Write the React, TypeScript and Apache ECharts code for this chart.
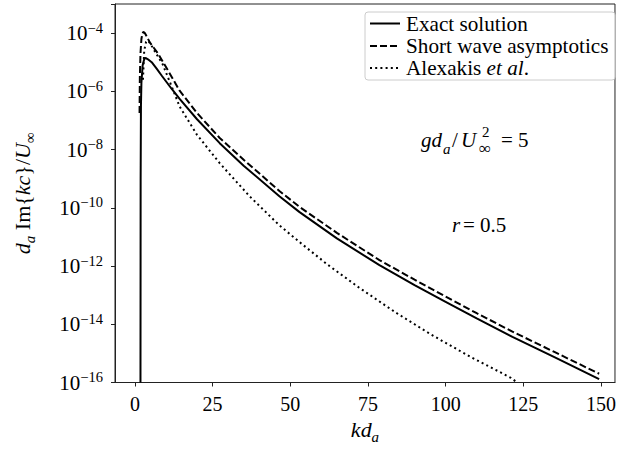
import React, { useEffect, useRef } from 'react';
import * as echarts from 'echarts';

// kd_a values and d_a Im{kc}/U_inf values
const exactK = [1.8, 1.85, 1.95, 2.1, 2.5, 3.0, 3.4, 4.2, 5.4, 7, 8.6, 11.8, 14.4, 20, 27.3, 35, 46.5, 53, 65, 78.7, 90, 100, 110, 121.5, 135, 149.4];
const exactV = [1e-16, 1e-9, 3.2e-7, 2.0e-6, 7.9e-6, 1.26e-5, 1.41e-5, 1.26e-5, 1.0e-5, 6.0e-6, 3.5e-6, 1.23e-6, 5.5e-7, 1.1e-7, 1.66e-8, 2.8e-9, 2.5e-10, 7.1e-11, 8.9e-12, 1.07e-12, 2.2e-13, 5.9e-14, 1.6e-14, 3.7e-15, 7.4e-16, 1.3e-16];

const shortK = [1.5, 1.6, 1.8, 2.1, 2.4, 2.7, 3.2, 4.0, 4.8, 7.5, 10.7, 14.4, 20, 27.3, 35, 46.5, 53, 65, 78.7, 90, 100, 110, 121.5, 135, 149.4];
const shortV = [1.8e-7, 3.2e-6, 2.0e-5, 6.3e-5, 9.5e-5, 1.1e-4, 1.0e-4, 7.1e-5, 4.8e-5, 1.95e-5, 5.1e-6, 1.05e-6, 1.8e-7, 2.5e-8, 4.5e-9, 3.8e-10, 1.07e-10, 1.38e-11, 1.6e-12, 3.4e-13, 8.9e-14, 2.4e-14, 5.6e-15, 1.12e-15, 2.0e-16];

const alexK = [2.6, 3.0, 3.6, 4.2, 5.2, 6.7, 8.9, 11.5, 14.4, 20, 27.3, 36.9, 46.5, 53.5, 62, 72.2, 84, 95.2, 108, 121, 123];
const alexV = [2.5e-6, 2.5e-5, 5.0e-5, 5.6e-5, 4.0e-5, 2.1e-5, 8.7e-6, 1.8e-6, 3.0e-7, 3.2e-8, 3.4e-9, 2.5e-10, 2.5e-11, 6.0e-12, 1.12e-12, 1.8e-13, 2.5e-14, 4.5e-15, 7.6e-16, 1.45e-16, 1e-16];

const xTicks = [0, 25, 50, 75, 100, 125, 150];
const legendNames = ['Exact solution', 'Short wave asymptotics', 'Alexakis et al.'];

const SERIF = 'Liberation Serif';

const pairs = (xs: number[], ys: number[]) => xs.map((x, i) => [x, ys[i]]);

export default function App() {
  const ref = useRef<HTMLDivElement>(null);
  useEffect(() => {
    if (!ref.current) return;
    const chart = echarts.init(ref.current, undefined, { renderer: 'svg' });
    const richBase = {
      n: { fontFamily: SERIF, fontSize: 22, lineHeight: 30, color: '#000' },
      i: { fontFamily: SERIF, fontSize: 22, fontStyle: 'italic', lineHeight: 30, color: '#000' },
      isub: { fontFamily: SERIF, fontSize: 15, fontStyle: 'italic', lineHeight: 14, verticalAlign: 'bottom', color: '#000' },
      sub: { fontFamily: SERIF, fontSize: 15, lineHeight: 14, verticalAlign: 'bottom', color: '#000' },
    };
    const legendY = [23.5, 46, 68];
    const lineDashes: any[] = [null, [7, 3], [2, 3.2]];
    const graphic: any[] = [
      {
        type: 'rect',
        shape: { x: 365, y: 12, width: 250, height: 68, r: 3 },
        style: { fill: 'rgba(255,255,255,0.8)', stroke: '#cccccc', lineWidth: 1 },
        z: 10,
      },
    ];
    legendNames.forEach((name, i) => {
      graphic.push({
        type: 'line',
        shape: { x1: 370, y1: legendY[i], x2: 400, y2: legendY[i] },
        style: { stroke: '#000', lineWidth: 2, lineDash: lineDashes[i] },
        z: 11,
      });
      const txt = i === 2 ? '{n|Alexakis }{i|et al}{n|.}' : '{n|' + name + '}';
      graphic.push({
        type: 'text',
        x: 406,
        y: legendY[i],
        style: {
          text: txt,
          verticalAlign: 'middle',
          align: 'left',
          rich: {
            n: { fontFamily: SERIF, fontSize: 21.2, color: '#000' },
            i: { fontFamily: SERIF, fontSize: 21.2, fontStyle: 'italic', color: '#000' },
          },
        },
        z: 11,
      });
    });
    const t = (text: string, x: number, y: number, size: number, italic: boolean) => ({
      type: 'text',
      x,
      y,
      style: {
        text,
        verticalAlign: 'middle',
        align: 'left',
        font: (italic ? 'italic ' : '') + size + 'px ' + SERIF,
        fill: '#000',
      },
      z: 11,
    });
    graphic.push(t('gd', 421, 140, 21, true));
    graphic.push(t('a', 443, 149, 15, true));
    graphic.push(t('/', 452, 140, 21, false));
    graphic.push(t('U', 461, 140, 21, true));
    graphic.push(t('2', 482, 132, 15, false));
    graphic.push(t('\u221e', 479, 148, 17, false));
    graphic.push(t('= 5', 501, 140, 21, false));
    graphic.push(t('r', 452, 225, 21, true));
    graphic.push(t('= 0.5', 463, 225, 21, false));

    const option: any = {
      animation: false,
      backgroundColor: '#fff',
      textStyle: { fontFamily: SERIF },
      grid: {
        left: 115,
        right: 1,
        top: 4,
        bottom: 73.5,
        show: true,
        borderColor: '#222',
        borderWidth: 1,
        containLabel: false,
      },
      xAxis: {
        type: 'value',
        min: -6.4,
        max: 154.5,
        splitLine: { show: false },
        axisLine: { show: true, onZero: false, lineStyle: { color: '#222', width: 1 } },
        axisTick: { show: true, length: 4, lineStyle: { color: '#222' }, customValues: xTicks },
        axisLabel: {
          customValues: xTicks,
          margin: 11,
          fontFamily: SERIF,
          fontSize: 20,
          color: '#000',
        },
        name: '{i|kd}{isub|a}',
        nameLocation: 'middle',
        nameGap: 31,
        nameTextStyle: { fontFamily: SERIF, fontSize: 22, color: '#000', rich: richBase },
      },
      yAxis: {
        type: 'log',
        logBase: 10,
        min: 1e-16,
        max: 1e-3,
        interval: 2,
        splitLine: { show: false },
        minorTick: { show: false },
        axisLine: { show: true, onZero: false, lineStyle: { color: '#222', width: 1 } },
        axisTick: { show: true, length: 4, lineStyle: { color: '#222' } },
        axisLabel: {
          margin: 12,
          color: '#000',
          fontFamily: SERIF,
          formatter: (v: number) => {
            const e = Math.round(Math.log10(v));
            if (e > -4) return '';
            return '{b|10}{s|\u2212' + Math.abs(e) + '}';
          },
          rich: {
            b: { fontFamily: SERIF, fontSize: 21, lineHeight: 26, color: '#000' },
            s: { fontFamily: SERIF, fontSize: 14.5, lineHeight: 14, verticalAlign: 'top', color: '#000' },
          },
        },
        name: '{i|d}{isub|a}{n| Im{}{i|kc}}/{i|U}{sub|\u221e}',
        nameLocation: 'middle',
        nameGap: 78,
        nameTextStyle: { fontFamily: SERIF, fontSize: 22, color: '#000', rich: richBase },
      },
      series: [
        {
          type: 'line',
          data: pairs(exactK, exactV),
          showSymbol: false,
          symbol: 'none',
          lineStyle: { color: '#000', width: 2, type: 'solid' },
          clip: true,
          z: 3,
        },
        {
          type: 'line',
          data: pairs(shortK, shortV),
          showSymbol: false,
          symbol: 'none',
          lineStyle: { color: '#000', width: 2, type: [7, 3] },
          clip: true,
          z: 3,
        },
        {
          type: 'line',
          data: pairs(alexK, alexV),
          showSymbol: false,
          symbol: 'none',
          lineStyle: { color: '#000', width: 2, type: [2, 3.2] },
          clip: true,
          z: 3,
        },
      ],
      graphic,
    };
    chart.setOption(option);
    return () => chart.dispose();
  }, []);
  return (
    <div
      ref={ref}
      style={{ position: 'fixed', left: 0, top: 0, width: 619, height: 456, background: '#fff' }}
    />
  );
}
